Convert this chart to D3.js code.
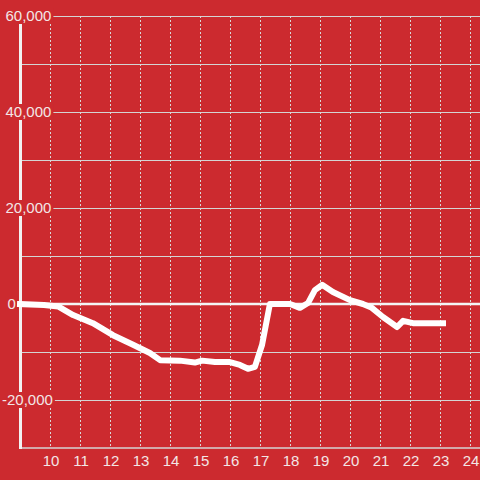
<!DOCTYPE html>
<html>
<head>
<meta charset="utf-8">
<script src="https://cdn.jsdelivr.net/npm/d3@7"></script>
<style>
  html, body { margin: 0; padding: 0; background: #cc2a2f; }
  svg { display: block; }
</style>
</head>
<body>
<svg id="chart" width="480" height="480"></svg>
<script>
// ---- data ----
const hours = [9, 9.8, 10.27, 10.77, 11.43, 12.1, 12.77, 13.33, 13.67, 14.33, 14.83, 15.07, 15.5, 16, 16.33, 16.6, 16.83, 17.07, 17.33, 18, 18.33, 18.6, 18.83, 19.07, 19.43, 20, 20.43, 20.73, 21.1, 21.57, 21.77, 22.1, 23.1];
const values = [0, -200, -500, -2300, -4000, -6500, -8500, -10200, -11700, -11800, -12200, -11800, -12100, -12100, -12700, -13500, -13100, -8500, 0, 0, -800, 200, 2900, 4000, 2500, 800, 0, -800, -2700, -4800, -3500, -4000, -4000];
const yTickLabels = [-20000, 0, 20000, 40000, 60000];
const yGridValues = [-20000, -10000, 10000, 20000, 30000, 40000, 50000, 60000];
const xTickLabels = [10, 11, 12, 13, 14, 15, 16, 17, 18, 19, 20, 21, 22, 23, 24];

const bg = "#cc2a2f";
const svg = d3.select("#chart");
const W = 480, H = 480;

const x = d3.scaleLinear().domain([9, 24]).range([20, 470]);
const y = d3.scaleLinear().domain([-30000, 60000]).range([448, 16]);

svg.append("rect").attr("width", W).attr("height", H).attr("fill", bg);

// horizontal gridlines
svg.append("g").selectAll("line").data(yGridValues).join("line")
  .attr("x1", 20).attr("x2", W)
  .attr("y1", d => Math.round(y(d)) + 0.5).attr("y2", d => Math.round(y(d)) + 0.5)
  .attr("stroke", "#d4d4d4").attr("stroke-width", 1);

// vertical dashed gridlines
svg.append("g").selectAll("line").data(xTickLabels).join("line")
  .attr("x1", d => Math.round(x(d)) + 0.5).attr("x2", d => Math.round(x(d)) + 0.5)
  .attr("y1", y(60000)).attr("y2", y(-30000))
  .attr("stroke", "#d8d8d8").attr("stroke-width", 1)
  .attr("stroke-dasharray", "2,2");

// zero line
svg.append("line")
  .attr("x1", 20).attr("x2", W)
  .attr("y1", y(0)).attr("y2", y(0))
  .attr("stroke", "#f4f4f4").attr("stroke-width", 2.5);

// bottom x-axis line
svg.append("line")
  .attr("x1", 20).attr("x2", W)
  .attr("y1", y(-30000)).attr("y2", y(-30000))
  .attr("stroke", "#d4d4d4").attr("stroke-width", 1.5);

// y axis line
svg.append("line")
  .attr("x1", 20.5).attr("x2", 20.5)
  .attr("y1", y(60000)).attr("y2", y(-30000) + 1)
  .attr("stroke", "#f2f2f2").attr("stroke-width", 3);

// y labels with background
const fmt = v => d3.format(",")(v).replace("\u2212", "-");
const yl = svg.append("g").attr("font-family", "'Liberation Sans', Arial, sans-serif")
  .attr("font-size", 15).attr("fill", "#f3e6e6");
yTickLabels.forEach(v => {
  const g = yl.append("g");
  const t = g.append("text")
    .attr("x", v < 0 ? 2 : (v === 0 ? 7.5 : 5.5))
    .attr("y", y(v))
    .attr("dy", "0.35em")
    .text(fmt(v));
  const bb = t.node().getBBox();
  g.insert("rect", "text")
    .attr("x", bb.x - 2).attr("y", y(v) - 8)
    .attr("width", bb.width + 4).attr("height", 16)
    .attr("fill", bg);
});

// data line
const line = d3.line().x((d, i) => x(hours[i])).y(d => y(d));
svg.append("path")
  .datum(values)
  .attr("d", line)
  .attr("fill", "none")
  .attr("stroke", "#ffffff")
  .attr("stroke-width", 6)
  .attr("stroke-linejoin", "round")
  .attr("stroke-linecap", "square");

// x labels
svg.append("g").attr("font-family", "'Liberation Sans', Arial, sans-serif")
  .attr("font-size", 15).attr("fill", "#f3e6e6")
  .selectAll("text").data(xTickLabels).join("text")
  .attr("x", d => x(d) + 1)
  .attr("y", 466)
  .attr("text-anchor", "middle")
  .text(d => d);
</script>
</body>
</html>
